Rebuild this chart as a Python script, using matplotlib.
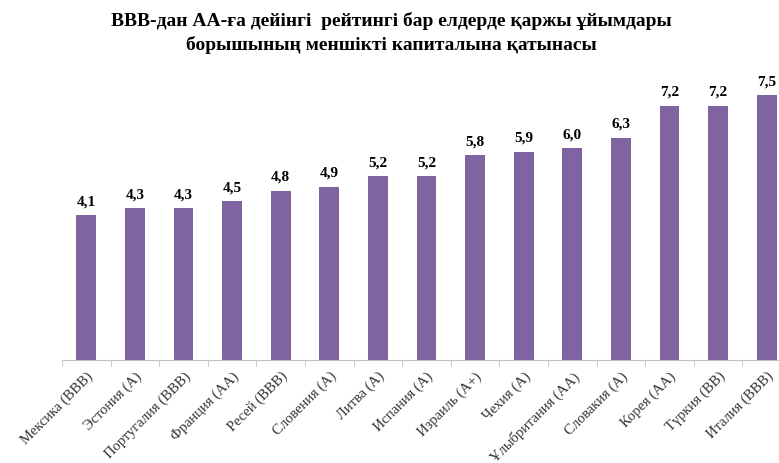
import matplotlib
matplotlib.use("Agg")
import matplotlib.pyplot as plt
import numpy as np

# data
countries = ["Мексика (BBB)", "Эстония (А)", "Португалия (BBB)", "Франция (АА)",
             "Ресей (BBB)", "Словения (А)", "Литва (А)", "Испания (А)",
             "Израиль (А+)", "Чехия (А)", "Ұлыбритания (АА)", "Словакия (А)",
             "Корея (АА)", "Түркия (BB)", "Италия (BBB)"]
ratio = [4.1, 4.3, 4.3, 4.5, 4.8, 4.9, 5.2, 5.2, 5.8, 5.9, 6.0, 6.3, 7.2, 7.2, 7.5]

title = ("BBB-дан АА-ға дейінгі  рейтингі бар елдерде қаржы ұйымдары\n"
         "борышының меншікті капиталына қатынасы")

plt.rcParams['font.family'] = ['Liberation Serif', 'DejaVu Serif']

fig = plt.figure(figsize=(7.79, 4.63), dpi=100)
# the original picture is cut off on the right, so the axes runs past the edge
ax = fig.add_axes([62 / 779, 103 / 463, 729 / 779, 282.4 / 463])

x = np.arange(len(countries))
bars = ax.bar(x, ratio, width=0.41, color="#8064A2")

for xi, v in zip(x, ratio):
    ax.text(xi, v + 0.2, f"{v:.1f}".replace(".", ","), ha="center", va="bottom",
            fontsize=11, fontweight="bold", color="black")

ax.set_xlim(-0.5, len(countries) - 0.5)
ax.set_ylim(0, 8)
ax.set_yticks([])
for s in ["top", "right", "left"]:
    ax.spines[s].set_visible(False)
ax.spines["bottom"].set_color("#BFBFBF")

ax.set_xticks(x)
ax.set_xticklabels(countries, rotation=45, ha="right", rotation_mode="anchor",
                   fontsize=10.5, color="#333333")
ax.tick_params(axis="x", length=0, pad=7)
ax.set_xticks(np.arange(len(countries) + 1) - 0.5, minor=True)
ax.tick_params(axis="x", which="minor", length=4, color="#BFBFBF")

fig.text(0.502, 0.975, title, ha="center", va="top", fontsize=14,
         fontweight="bold", linespacing=1.45)

fig.savefig("out.png", dpi=100)
